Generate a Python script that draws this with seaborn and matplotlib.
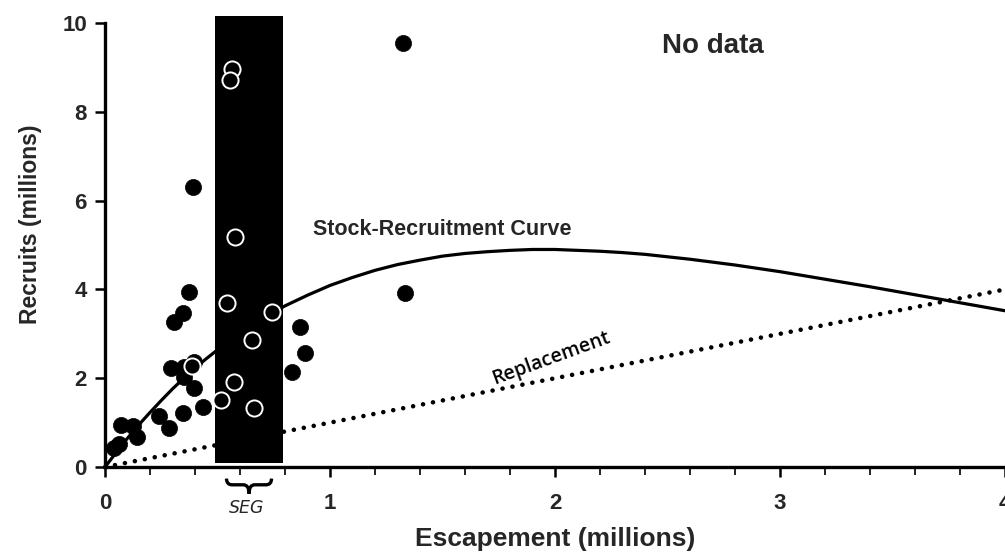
import numpy as np
import pandas as pd
import matplotlib
matplotlib.use("Agg")
import matplotlib.pyplot as plt
from matplotlib.patches import Rectangle, PathPatch
from matplotlib.path import Path
import matplotlib.transforms as mtransforms
import seaborn as sns

# ---- data ----
obs_escapement = [1.326, 0.393, 0.373, 0.345, 0.308, 1.333, 0.867, 0.889, 0.832,
                  0.293, 0.352, 0.396, 0.352, 0.397, 0.434, 0.348, 0.240, 0.284,
                  0.071, 0.126, 0.141, 0.064, 0.040]
obs_recruits = [9.54, 6.30, 3.94, 3.48, 3.27, 3.91, 3.15, 2.57, 2.13,
                2.22, 2.26, 2.37, 2.02, 1.77, 1.36, 1.21, 1.15, 0.89,
                0.95, 0.92, 0.68, 0.53, 0.42]

seg_escapement = [0.563, 0.556, 0.578, 0.544, 0.744, 0.655, 0.573, 0.516, 0.664, 0.385]
seg_recruits = [8.96, 8.72, 5.17, 3.69, 3.50, 2.85, 1.92, 1.51, 1.32, 2.27]

curve_escapement = [0.0, 0.05, 0.1, 0.15, 0.2, 0.25, 0.3, 0.35, 0.4, 0.45, 0.5,
                    0.6, 0.7, 0.8, 0.9, 1.0, 1.1, 1.2, 1.3, 1.4, 1.5, 1.6, 1.7,
                    1.8, 1.9, 2.0, 2.1, 2.2, 2.3, 2.4, 2.6, 2.8, 3.0, 3.2, 3.4,
                    3.6, 3.8, 4.0]
curve_recruits = [0.0, 0.33, 0.65, 0.95, 1.23, 1.50, 1.76, 2.00, 2.23, 2.44, 2.64,
                  3.01, 3.34, 3.63, 3.87, 4.09, 4.27, 4.43, 4.56, 4.66, 4.75, 4.81,
                  4.85, 4.88, 4.90, 4.90, 4.88, 4.86, 4.83, 4.79, 4.68, 4.55, 4.40,
                  4.23, 4.06, 3.88, 3.70, 3.52]

replacement_escapement = [0.0, 4.0]
replacement_recruits = [0.0, 4.0]

seg_band = [0.49, 0.79]          # escapement goal range shown as dark band
seg_brace = [0.54, 0.74]

x_ticks = [0, 1, 2, 3, 4]
y_ticks = [0, 2, 4, 6, 8, 10]

# ---- figure ----
sns.set_style("ticks")
plt.rcParams['font.family'] = ['Liberation Sans', 'DejaVu Sans']

fig = plt.figure(figsize=(10.05, 5.56), dpi=100)
ax = fig.add_axes([0.1045, 0.160, 0.8955, 0.7986])

ax.add_patch(Rectangle((seg_band[0], 0.08), seg_band[1] - seg_band[0], 10.07,
                       facecolor='black', edgecolor='none', zorder=1, clip_on=False))

rep_df = pd.DataFrame({'x': replacement_escapement, 'y': replacement_recruits})
sns.lineplot(data=rep_df, x='x', y='y', ax=ax, color='black', linewidth=3.3,
             linestyle=(0, (0.01, 2.2)), dash_capstyle='round', zorder=2, clip_on=False)

cur_df = pd.DataFrame({'x': curve_escapement, 'y': curve_recruits})
sns.lineplot(data=cur_df, x='x', y='y', ax=ax, color='black', linewidth=2.3,
             zorder=3, clip_on=False)

obs_df = pd.DataFrame({'x': obs_escapement, 'y': obs_recruits})
sns.scatterplot(data=obs_df, x='x', y='y', ax=ax, color='black', s=135,
                edgecolor='black', linewidth=0.5, zorder=4, clip_on=False)

seg_df = pd.DataFrame({'x': seg_escapement, 'y': seg_recruits})
sns.scatterplot(data=seg_df, x='x', y='y', ax=ax, color='black', s=135,
                edgecolor='white', linewidth=1.4, zorder=5, clip_on=False)

ax.set_xlim(0, 4)
ax.set_ylim(0, 10)
ax.set_xticks(x_ticks)
ax.set_yticks(y_ticks)
ax.set_xticks(np.arange(0, 4.01, 0.2), minor=True)
ax.set_xticklabels([str(t) for t in x_ticks], fontsize=16, fontweight='bold')
ax.set_yticklabels([str(t) for t in y_ticks], fontsize=16, fontweight='bold')
ax.tick_params(axis='both', which='major', direction='out', length=7, width=1.8,
               color='black', pad=12)
ax.tick_params(axis='x', which='minor', direction='out', length=6, width=1.2,
               color='black')
ax.tick_params(axis='y', pad=6)

sns.despine(ax=ax)
for side in ['left', 'bottom']:
    ax.spines[side].set_linewidth(2.4)
    ax.spines[side].set_color('black')

ax.set_xlabel('Escapement (millions)', fontsize=19, fontweight='bold', labelpad=9)
ax.set_ylabel('Recruits (millions)', fontsize=16.5, fontweight='bold')
ax.yaxis.set_label_coords(-0.070, 0.547)

ax.text(0.924, 5.36, 'Stock-Recruitment Curve', fontsize=15.5, fontweight='bold',
        ha='left', va='center')
ax.text(2.70, 9.48, 'No data', fontsize=20, fontweight='bold', ha='center', va='center')
ax.text(1.985, 2.45, 'Replacement', fontsize=14, rotation=20, ha='center', va='center',
        family=['Open Sans', 'DejaVu Sans'], fontweight='semibold', color='black')

# SEG brace below the axis
trans = mtransforms.blended_transform_factory(ax.transData, ax.transAxes)
b0, b1 = seg_brace
bm = (b0 + b1) / 2
yt, yb, ytip = -0.026, -0.040, -0.060
verts = [(b0, yt), (b0, yb), (b0 + 0.025, yb),
         (bm - 0.025, yb),
         (bm, yb), (bm, ytip),
         (bm, yb), (bm + 0.025, yb),
         (b1 - 0.025, yb),
         (b1, yb), (b1, yt)]
codes = [Path.MOVETO, Path.CURVE3, Path.CURVE3,
         Path.LINETO,
         Path.CURVE3, Path.CURVE3,
         Path.CURVE3, Path.CURVE3,
         Path.LINETO,
         Path.CURVE3, Path.CURVE3]
ax.add_patch(PathPatch(Path(verts, codes), transform=trans, facecolor='none',
                       edgecolor='black', linewidth=2.4, clip_on=False))
ax.text(bm - 0.01, -0.092, 'SEG', transform=trans, fontsize=12.5, style='italic',
        ha='center', va='center', family=['DejaVu Sans'])

fig.savefig('out.png', dpi=100)
